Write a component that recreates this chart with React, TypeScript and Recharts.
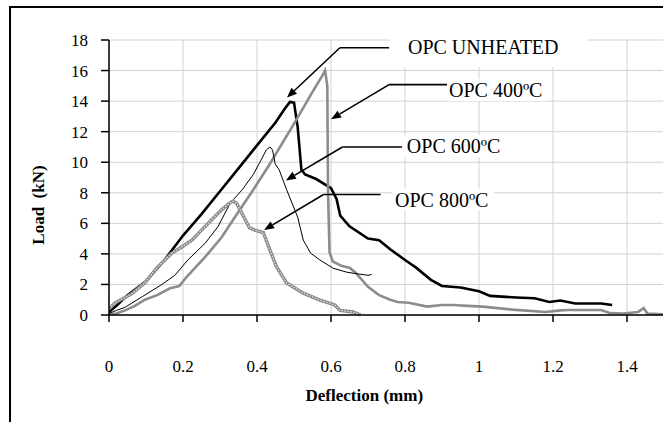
import React from 'react';
import { LineChart, Line, XAxis, YAxis, CartesianGrid, ReferenceLine, ReferenceDot, Label } from 'recharts';

const FONT = "'Liberation Serif', 'Times New Roman', serif";

const X_TICKS = [0, 0.2, 0.4, 0.6, 0.8, 1, 1.2, 1.4];
const Y_TICKS = [0, 2, 4, 6, 8, 10, 12, 14, 16, 18];
const X_MAX = 1.5;
const Y_MAX = 18;

// OPC unheated
const unheatedX = [0, 0.02, 0.05, 0.1, 0.15, 0.2, 0.25, 0.3, 0.35, 0.4, 0.45, 0.475, 0.489, 0.5, 0.51, 0.52, 0.53, 0.56, 0.6, 0.615, 0.625, 0.65, 0.7, 0.73, 0.76, 0.8, 0.83, 0.87, 0.9, 0.95, 1.0, 1.03, 1.1, 1.15, 1.19, 1.22, 1.26, 1.33, 1.36];
const unheatedY = [0.2, 0.6, 1.3, 2.2, 3.6, 5.2, 6.6, 8.1, 9.6, 11.1, 12.6, 13.5, 13.95, 13.9, 12.3, 9.5, 9.2, 8.9, 8.3, 7.6, 6.5, 5.8, 5.0, 4.9, 4.3, 3.6, 3.1, 2.3, 1.9, 1.8, 1.55, 1.25, 1.15, 1.1, 0.85, 0.95, 0.75, 0.75, 0.65];

// OPC 400ºC
const c400X = [0, 0.02, 0.043, 0.07, 0.097, 0.13, 0.165, 0.19, 0.21, 0.26, 0.305, 0.34, 0.39, 0.435, 0.507, 0.55, 0.575, 0.584, 0.59, 0.592, 0.596, 0.605, 0.63, 0.65, 0.665, 0.68, 0.7, 0.73, 0.76, 0.78, 0.81, 0.86, 0.9, 0.93, 0.97, 1.01, 1.05, 1.09, 1.18, 1.22, 1.24, 1.33, 1.355, 1.39, 1.43, 1.445, 1.455, 1.5];
const c400Y = [0.05, 0.1, 0.3, 0.6, 1.0, 1.3, 1.75, 1.9, 2.5, 3.8, 5.1, 6.4, 8.2, 9.9, 12.8, 14.6, 15.6, 16.0, 15.0, 8.0, 4.1, 3.5, 3.2, 3.1, 2.8, 2.4, 1.85, 1.3, 1.0, 0.85, 0.8, 0.55, 0.65, 0.65, 0.6, 0.55, 0.45, 0.35, 0.2, 0.3, 0.33, 0.33, 0.12, 0.1, 0.2, 0.45, 0.1, 0.05];

// OPC 600ºC
const c600X = [0, 0.02, 0.043, 0.09, 0.143, 0.178, 0.213, 0.26, 0.295, 0.327, 0.36, 0.39, 0.41, 0.425, 0.435, 0.442, 0.449, 0.46, 0.48, 0.51, 0.525, 0.545, 0.57, 0.606, 0.643, 0.67, 0.7, 0.71];
const c600Y = [0.1, 0.3, 0.5, 1.2, 2.0, 2.6, 3.6, 4.7, 5.8, 7.3, 8.2, 9.2, 10.1, 10.8, 11.0, 10.8, 9.9, 9.5, 8.2, 6.4, 4.9, 4.05, 3.6, 3.06, 2.8, 2.7, 2.6, 2.65];

// OPC 800ºC
const c800X = [0, 0.016, 0.04, 0.062, 0.097, 0.13, 0.17, 0.2, 0.224, 0.26, 0.305, 0.33, 0.336, 0.345, 0.354, 0.38, 0.4, 0.417, 0.435, 0.453, 0.48, 0.525, 0.57, 0.6, 0.61, 0.625, 0.66, 0.68];
const c800Y = [0.4, 0.8, 1.1, 1.4, 2.1, 3.1, 4.05, 4.5, 4.9, 5.8, 6.9, 7.4, 7.45, 7.3, 6.9, 5.7, 5.5, 5.4, 4.25, 3.15, 2.1, 1.43, 0.98, 0.75, 0.65, 0.3, 0.2, 0.0];

// annotation callouts in data units: label anchor, elbow start, elbow end, arrow tip
const callouts = [
  { text: 'OPC UNHEATED', lx: 0.808, ly: 17.54, pad: [18, 25, 16, 20], pts: [[0.757, 17.49], [0.624, 17.49], [0.481, 14.23]] },
  { text: 'OPC 400ºC', lx: 0.919, ly: 14.72, pad: [2, 3, 11, 11], pts: [[0.916, 15.08], [0.757, 15.08], [0.6, 12.81]] },
  { text: 'OPC 600ºC', lx: 0.805, ly: 11.06, pad: [3, 3, 11, 11], pts: [[0.792, 11.0], [0.631, 11.0], [0.478, 8.81]] },
  { text: 'OPC 800ºC', lx: 0.773, ly: 7.56, pad: [3, 3, 11, 11], pts: [[0.734, 7.89], [0.58, 7.89], [0.419, 5.56]] },
];

const zip = (xs: number[], ys: number[]) => xs.map((x, i) => ({ x, y: ys[i] }));

const textWidth = (s: string) => (s === 'OPC UNHEATED' ? 154 : 96);

const ArrowSeg = (arrow: boolean) => (props: any) => {
  const { x1, y1, x2, y2 } = props;
  if (x1 == null) return null;
  const ang = Math.atan2(y2 - y1, x2 - x1);
  const len = 10;
  const w = 4;
  const bx = x2 - len * Math.cos(ang);
  const by = y2 - len * Math.sin(ang);
  const px = -Math.sin(ang) * w;
  const py = Math.cos(ang) * w;
  return (
    <g>
      <line x1={x1} y1={y1} x2={arrow ? bx : x2} y2={arrow ? by : y2} stroke="#000" strokeWidth={1.6} />
      {arrow && <polygon points={`${x2},${y2} ${bx + px},${by + py} ${bx - px},${by - py}`} fill="#000" />}
    </g>
  );
};

const CalloutLabel = (text: string, pad: number[]) => (props: any) => {
  const { cx, cy } = props;
  if (cx == null) return null;
  const w = textWidth(text);
  return (
    <g>
      <rect x={cx - pad[0]} y={cy - pad[2]} width={w + pad[0] + pad[1]} height={pad[2] + pad[3]} fill="#fff" />
      <text x={cx} y={cy + 7} fontSize={20} fontFamily={FONT} fill="#000">{text}</text>
    </g>
  );
};

// map a value through an axis scale, whatever shape the scale object has
const mapScale = (axis: any, v: number, fallback: () => number) => {
  const s = axis && axis.scale;
  if (typeof s === 'function') return s(v);
  if (s && typeof s.map === 'function') {
    const r = s.map(v);
    if (typeof r === 'number') return r;
  }
  return fallback();
};

const hGrid = (p: any) =>
  Y_TICKS.map((v) => mapScale(p.yAxis, v, () => p.offset.top + p.offset.height * (1 - v / Y_MAX)));
const vGrid = (p: any) =>
  X_TICKS.map((v) => mapScale(p.xAxis, v, () => p.offset.left + p.offset.width * (v / X_MAX)));

export default function App() {
  const tickStyle = { fill: '#000', fontSize: 17, fontFamily: FONT };
  return (
    <div style={{ position: 'fixed', left: 0, top: 0, width: 663, height: 422, overflow: 'hidden', background: '#fff' }}>
      <div style={{ position: 'absolute', left: 9, top: 6, width: 700, height: 460, border: '2px solid #000', boxSizing: 'border-box' }} />
      <div style={{ position: 'absolute', left: 0, top: 0 }}>
        <LineChart width={663} height={422} margin={{ top: 40, right: -1, left: 0, bottom: 0 }}>
          <CartesianGrid
            stroke="#d2d2d2"
            strokeWidth={1}
            horizontal
            vertical
            horizontalCoordinatesGenerator={hGrid}
            verticalCoordinatesGenerator={vGrid}
          />
          <XAxis
            type="number"
            dataKey="x"
            domain={[0, X_MAX]}
            ticks={X_TICKS}
            allowDataOverflow
            height={107}
            tickSize={7}
            tickMargin={38}
            axisLine={{ stroke: '#000', strokeWidth: 1.5 }}
            tickLine={{ stroke: '#000', strokeWidth: 1.5 }}
            tick={tickStyle}
          >
            <Label
              content={(p: any) => {
                const vb = p.viewBox || { x: 109, y: 315, width: 554 };
                return (
                  <text x={vb.x + vb.width * 0.46} y={vb.y + 86} textAnchor="middle" fontSize={17} fontWeight="bold" fontFamily={FONT} fill="#000">
                    Deflection (mm)
                  </text>
                );
              }}
            />
          </XAxis>
          <YAxis
            type="number"
            domain={[0, Y_MAX]}
            ticks={Y_TICKS}
            width={109}
            tickSize={8}
            tickMargin={13}
            axisLine={{ stroke: '#000', strokeWidth: 1.5 }}
            tickLine={{ stroke: '#000', strokeWidth: 1.5 }}
            tick={tickStyle}
          >
            <Label
              content={(p: any) => {
                const vb = p.viewBox || { x: 0, y: 40, height: 275 };
                const cx = vb.x + 38;
                const cy = vb.y + vb.height * 0.6;
                return (
                  <text x={cx} y={cy} transform={`rotate(-90 ${cx} ${cy})`} textAnchor="middle" dominantBaseline="central" fontSize={17} fontWeight="bold" fontFamily={FONT} fill="#000" style={{ whiteSpace: 'pre' }}>
                    {'Load  (kN)'}
                  </text>
                );
              }}
            />
          </YAxis>
          <Line data={zip(unheatedX, unheatedY)} dataKey="y" type="linear" stroke="#000" strokeWidth={2.6} dot={false} isAnimationActive={false} />
          <Line data={zip(c400X, c400Y)} dataKey="y" type="linear" stroke="#8c8c8c" strokeWidth={2.6} dot={false} isAnimationActive={false} />
          <Line data={zip(c600X, c600Y)} dataKey="y" type="linear" stroke="#000" strokeWidth={1} dot={false} isAnimationActive={false} />
          <Line data={zip(c800X, c800Y)} dataKey="y" type="linear" stroke="#8a8a8a" strokeWidth={3.4} dot={false} isAnimationActive={false} />
          <Line data={zip(c800X, c800Y)} dataKey="y" type="linear" stroke="#e6e6e6" strokeWidth={1.2} strokeDasharray="1.5 1.5" dot={false} isAnimationActive={false} />
          {callouts.map((c) => (
            <ReferenceDot key={c.text} x={c.lx} y={c.ly} ifOverflow="visible" shape={CalloutLabel(c.text, c.pad)} />
          ))}
          {callouts.flatMap((c) =>
            c.pts.slice(0, -1).map((p, i) => (
              <ReferenceLine
                key={c.text + i}
                segment={[{ x: p[0], y: p[1] }, { x: c.pts[i + 1][0], y: c.pts[i + 1][1] }]}
                ifOverflow="visible"
                shape={ArrowSeg(i === c.pts.length - 2)}
              />
            ))
          )}
        </LineChart>
      </div>
    </div>
  );
}
